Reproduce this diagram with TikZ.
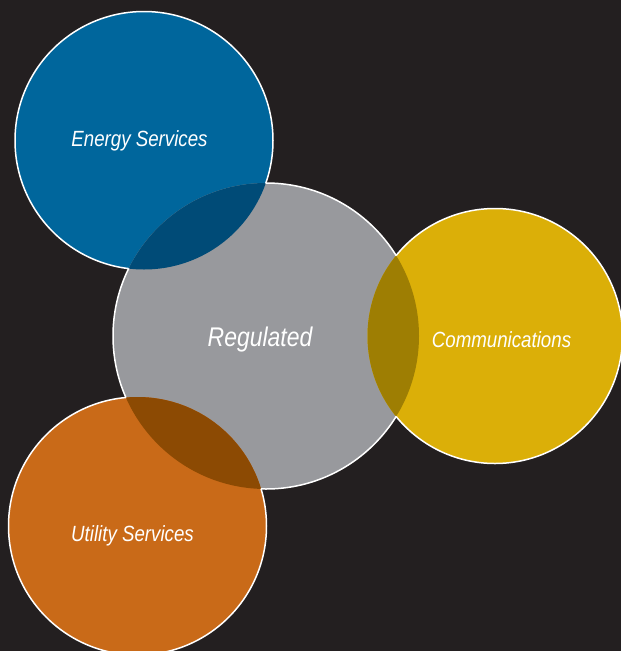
\documentclass[tikz,border=0pt]{standalone}
\usepackage{fontspec}
\newfontfamily\labelfont[FakeStretch=0.85]{Liberation Sans}
\definecolor{bgc}{HTML}{231F20}
\definecolor{bluec}{HTML}{00669C}
\definecolor{grayc}{HTML}{98999D}
\definecolor{yellowc}{HTML}{DBAF08}
\definecolor{orangec}{HTML}{C96A18}
\definecolor{bluegray}{HTML}{004B77}
\definecolor{yellowgray}{HTML}{9E7E03}
\definecolor{orangegray}{HTML}{8C4A03}
\tikzset{
  % clockwise frame: added after a (counter-clockwise) circle it turns the circle into a hole
  outside/.style={insert path={(-50,50) -- (700,50) -- (700,-720) -- (-50,-720) -- cycle}},
  rim/.style={draw=white, line width=1.5pt},
  lbl/.style={text=white, inner sep=0pt, anchor=base, font=\labelfont\itshape\fontsize{22}{25}\selectfont},
}
\begin{document}
\begin{tikzpicture}[x=1pt, y=1pt]
  \fill[bgc] (0,0) rectangle (621,-651);
  \useasboundingbox (0,0) rectangle (621,-651);

  % centres
  \coordinate (E) at (144,-140.5);
  \coordinate (R) at (266,-336);
  \coordinate (C) at (495,-336);
  \coordinate (U) at (137.5,-526);
  \def\rE{129pt}\def\rR{153pt}\def\rC{127.5pt}\def\rU{129pt}

  % discs
  \fill[bluec]   (E) circle[radius=\rE];
  \fill[grayc]   (R) circle[radius=\rR];
  \fill[yellowc] (C) circle[radius=\rC];
  \fill[orangec] (U) circle[radius=\rU];

  % overlaps with the central disc
  \begin{scope}
    \clip (R) circle[radius=\rR];
    \fill[bluegray]   (E) circle[radius=\rE];
    \fill[yellowgray] (C) circle[radius=\rC];
    \fill[orangegray] (U) circle[radius=\rU];
  \end{scope}

  % white rims, only where a disc lies outside the others
  \begin{scope}
    \clip (R) circle[radius=\rR] [outside];
    \draw[rim] (E) circle[radius=\rE];
    \draw[rim] (C) circle[radius=\rC];
    \draw[rim] (U) circle[radius=\rU];
  \end{scope}
  \begin{scope}
    \clip (E) circle[radius=\rE] [outside];
    \begin{scope}
      \clip (C) circle[radius=\rC] [outside];
      \begin{scope}
        \clip (U) circle[radius=\rU] [outside];
        \draw[rim] (R) circle[radius=\rR];
      \end{scope}
    \end{scope}
  \end{scope}

  % labels
  \node[lbl] (tE) at (139.5,-146) {Energy Services};
  \node[lbl, font=\labelfont\itshape\fontsize{27}{30}\selectfont] (tR) at (260,-346) {Regulated};
  \node[lbl] (tC) at (501.5,-347.5) {Communications};
  \node[lbl] (tU) at (132.5,-541.5) {Utility Services};
\end{tikzpicture}
\end{document}
